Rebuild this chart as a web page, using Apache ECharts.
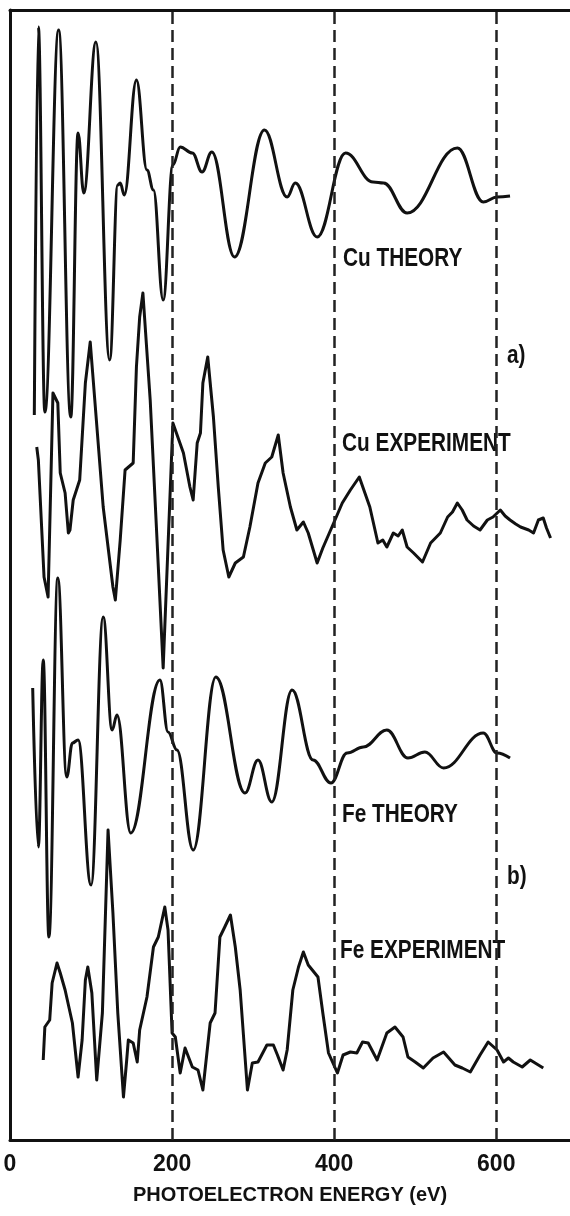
<!DOCTYPE html>
<html>
<head>
<meta charset="utf-8">
<script src="https://cdn.jsdelivr.net/npm/echarts@6/dist/echarts.min.js"></script>
<style>
html,body{margin:0;padding:0;background:#fff;}
#chart{width:570px;height:1216px;}
</style>
</head>
<body>
<div id="chart"></div>
<script>
// Photoelectron energy (eV) tick labels
const energyTicks = [0, 200, 400, 600];

// Cu THEORY (energy in eV, signal in arbitrary units)
const cuTheoryE = [30, 35, 43, 60, 75, 84, 91, 106, 123, 133, 136, 141, 156, 169, 177, 189, 201, 210, 225, 237, 249, 277, 314, 342, 352, 379, 414, 448, 461, 490, 552, 584, 601, 617];
const cuTheoryV = [-215, 173, -212, 170, -217, 67, 7, 158, -160, 15, 17, 5, 120, 30, 10, -100, 35, 53, 47, 28, 48, -57, 70, 3, 17, -37, 47, 18, 17, -13, 52, -2, 3, 4];

// Cu EXPERIMENT
const cuExpE = [33, 35, 42, 47, 53, 59, 62, 68, 72, 74, 78, 86, 93, 99, 102, 115, 127, 130, 136, 142, 152, 156, 160, 164, 173, 181, 189, 201, 214, 222, 226, 231, 235, 238, 244, 251, 257, 263, 270, 278, 288, 296, 306, 315, 323, 331, 337, 346, 354, 362, 368, 379, 386, 401, 410, 420, 431, 444, 454, 460, 465, 473, 479, 484, 490, 498, 509, 519, 531, 540, 546, 552, 558, 564, 572, 580, 589, 596, 605, 611, 617, 624, 630, 640, 646, 652, 658, 662, 667];
const cuExpV = [53, 40, -77, -97, 107, 97, 27, 7, -33, -30, 0, 20, 117, 158, 127, -7, -87, -100, -40, 30, 37, 133, 183, 207, 100, -33, -168, 77, 47, 13, 0, 57, 67, 117, 143, 83, 13, -50, -77, -63, -57, -27, 17, 37, 43, 65, 27, -7, -30, -22, -33, -63, -48, -20, -3, 10, 23, -7, -43, -40, -47, -33, -36, -30, -47, -53, -62, -43, -33, -17, -12, -3, -10, -20, -26, -30, -20, -17, -10, -16, -20, -24, -27, -30, -33, -20, -18, -28, -38];

// Fe THEORY
const feTheoryE = [28, 35, 41, 48, 59, 70, 77, 84, 100, 115, 126, 132, 149, 185, 195, 206, 226, 254, 290, 306, 323, 348, 374, 396, 416, 436, 465, 491, 512, 535, 584, 601, 617];
const feTheoryV = [72, -87, 100, -177, 182, -17, 17, 20, -125, 143, 30, 45, -73, 80, 28, 10, -90, 83, -33, 0, -42, 70, 0, -23, 7, 13, 30, 2, 8, -8, 27, 7, 2];

// Fe EXPERIMENT
const feExpE = [41, 43, 49, 52, 58, 62, 68, 77, 84, 89, 93, 96, 101, 107, 114, 121, 127, 133, 140, 144, 146, 152, 157, 160, 169, 177, 183, 191, 195, 200, 204, 210, 216, 225, 232, 238, 247, 253, 259, 265, 272, 278, 284, 293, 299, 306, 317, 325, 330, 337, 342, 349, 356, 362, 368, 380, 386, 393, 404, 411, 420, 428, 435, 442, 453, 465, 475, 485, 491, 500, 510, 522, 535, 549, 558, 568, 580, 590, 601, 609, 615, 621, 632, 642, 650, 658];
const feExpV = [-10, 23, 30, 67, 87, 77, 60, 27, -27, 10, 70, 83, 57, -30, 37, 220, 137, 37, -47, -10, 10, 7, -12, 20, 53, 103, 113, 143, 120, 17, 13, -23, 2, -17, -20, -40, 27, 37, 113, 123, 135, 103, 60, -40, -13, -12, 5, 5, -5, -20, 0, 60, 83, 98, 85, 73, 37, -3, -23, -5, -2, -3, 8, 7, -10, 17, 23, 13, -7, -12, -18, -8, -2, -15, -18, -22, -5, 8, 0, -12, -8, -12, -17, -10, -14, -18];

// vertical stacking of the four traces (layout)
const offsets = [940, 640, 380, 90];

function pairs(E, V, off) { return E.map((e, i) => [e, V[i] + off]); }

const ink = '#111';
const chart = echarts.init(document.getElementById('chart'));

function lineSeries(name, E, V, off, smooth) {
  const s = {
    name, type: 'line', data: pairs(E, V, off), smooth: smooth,
    symbol: 'none', lineStyle: { color: ink, width: 3, join: 'round' },
    silent: true, animation: false
  };
  if (smooth) s.smoothMonotone = 'x';
  return s;
}

const series = [
  lineSeries('Cu THEORY', cuTheoryE, cuTheoryV, offsets[0], 0.4),
  lineSeries('Cu EXPERIMENT', cuExpE, cuExpV, offsets[1], false),
  lineSeries('Fe THEORY', feTheoryE, feTheoryV, offsets[2], 0.4),
  lineSeries('Fe EXPERIMENT', feExpE, feExpV, offsets[3], false)
];
series[0].markLine = {
  silent: true, symbol: ['none', 'none'], label: { show: false },
  lineStyle: { type: [12, 6], width: 2.5, color: '#222' },
  data: energyTicks.slice(1).map(v => ({ xAxis: v })),
  animation: false
};

const labelFont = 'bold 26px "Liberation Sans", Arial, sans-serif';
function txt(t, x, y) {
  return { type: 'text', x: x, y: y, scaleX: 0.8, silent: true,
    style: { text: t, font: labelFont, fill: ink, verticalAlign: 'middle', align: 'left' } };
}

chart.setOption({
  animation: false,
  backgroundColor: '#fff',
  grid: { left: 10, right: 0, top: 10, bottom: 76 },
  xAxis: [{
    type: 'value', min: 0, max: 691,
    axisLine: { show: true, onZero: false, lineStyle: { color: ink, width: 3 } },
    axisTick: { show: false },
    splitLine: { show: false },
    axisLabel: { customValues: energyTicks, color: ink, fontSize: 23, fontWeight: 'bold',
      fontFamily: '"Liberation Sans", Arial, sans-serif', margin: 13 },
    name: 'PHOTOELECTRON ENERGY (eV)', nameLocation: 'middle', nameGap: 45,
    nameTextStyle: { color: ink, fontSize: 20, fontWeight: 'bold', fontFamily: '"Liberation Sans", Arial, sans-serif' }
  }, {
    type: 'value', min: 0, max: 691, position: 'top',
    axisLine: { show: true, onZero: false, lineStyle: { color: ink, width: 3 } },
    axisTick: { show: false }, axisLabel: { show: false }, splitLine: { show: false }
  }],
  yAxis: {
    type: 'value', min: 0, max: 1130,
    axisLine: { show: true, onZero: false, lineStyle: { color: ink, width: 3 } },
    axisTick: { show: false }, axisLabel: { show: false }, splitLine: { show: false }
  },
  series: series,
  graphic: [
    txt('Cu THEORY', 343, 259),
    txt('a)', 507, 356),
    txt('Cu EXPERIMENT', 342, 444),
    txt('Fe THEORY', 342, 815),
    txt('b)', 507, 877),
    txt('Fe EXPERIMENT', 340, 951)
  ]
});
</script>
</body>
</html>
